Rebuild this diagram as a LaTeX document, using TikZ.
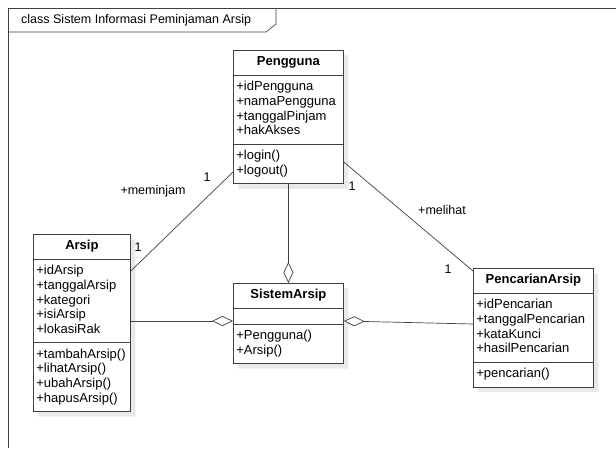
\documentclass[tikz,border=0pt]{standalone}
\usepackage{fontspec}
\setmainfont{Liberation Sans}
\usetikzlibrary{shapes.multipart,arrows.meta,shadows}
\definecolor{umlline}{RGB}{64,64,64}
\definecolor{umlshadow}{RGB}{233,233,233}
\newcommand{\clsfont}{\fontsize{13}{14.6}\selectfont}
\newcommand{\lblfont}{\fontsize{12.5}{14}\selectfont}

\begin{document}
\begin{tikzpicture}[x=1pt, y=-1pt,
  umlclass/.style={rectangle split, rectangle split parts=3, rectangle split part align={center,left,left},
    rectangle split empty part height=0pt, draw=umlline, line width=0.8pt, fill=white, align=left,
    anchor=north west, inner xsep=3pt, inner ysep=4.8pt, font=\clsfont,
    drop shadow={shadow xshift=5pt, shadow yshift=-5pt, fill=umlshadow, opacity=1}},
  assoc/.style={draw=umlline, line width=0.7pt},
  aggr/.style={assoc, -{Diamond[length=21pt, width=10pt, fill=white]}},
  lbl/.style={font=\lblfont, inner sep=1pt}
]
\useasboundingbox (0,0) rectangle (616,448);

% ================= FRAME =================
\draw[umlline, line width=0.7pt] (616,8) -- (8,8) -- (8,448);
\draw[umlline, line width=0.7pt] (8,32) -- (266,32) -- (276,24) -- (276,8);
\node[lbl, anchor=west] (title) at (20,20) {class Sistem Informasi Peminjaman Arsip};

% ================= CLASSES =================
\node[umlclass, minimum width=110pt] (pengguna) at (233,50) {\textbf{Pengguna}\strut
  \nodepart{two}\strut+idPengguna\\+namaPengguna\\+tanggalPinjam\\+hakAkses\strut
  \nodepart{three}\strut+login()\\+logout()\strut};

\node[umlclass, minimum width=97pt] (arsip) at (33,234) {\textbf{Arsip}\strut
  \nodepart{two}\strut+idArsip\\+tanggalArsip\\+kategori\\+isiArsip\\+lokasiRak\strut
  \nodepart{three}\strut+tambahArsip()\\+lihatArsip()\\+ubahArsip()\\+hapusArsip()\strut};

\node[umlclass, minimum width=110pt] (sistem) at (233,283) {\textbf{SistemArsip}\strut
  \nodepart{two}
  \nodepart{three}\strut+Pengguna()\\+Arsip()\strut};

\node[umlclass, minimum width=120pt] (pencarian) at (473,268) {\textbf{PencarianArsip}\strut
  \nodepart{two}\strut+idPencarian\\+tanggalPencarian\\+kataKunci\\+hasilPencarian\strut
  \nodepart{three}\strut+pencarian()\strut};

% ================= RELATIONS =================
\draw[assoc] ([yshift=-37pt]arsip.north east) -- ([yshift=-122pt]pengguna.north west);
\node[lbl] (rolePinjam) at (153,191) {+meminjam};
\node[lbl] (mulPengA) at (207,177) {1};
\node[lbl] (mulArsip) at (138,247) {1};

\draw[assoc] ([yshift=-112pt]pengguna.north east) -- ([yshift=-3pt]pencarian.north west);
\node[lbl] (roleLihat) at (442,210) {+melihat};
\node[lbl] (mulPengC) at (352,186) {1};
\node[lbl] (mulCari) at (448,269) {1};

\draw[aggr] (pengguna.south) -- (sistem.north);
\draw[aggr] ([yshift=-87pt]arsip.north east) -- ([yshift=-38pt]sistem.north west);
\draw[aggr] ([yshift=-56pt]pencarian.north west) -- ([yshift=-38pt]sistem.north east);
\end{tikzpicture}
\end{document}
